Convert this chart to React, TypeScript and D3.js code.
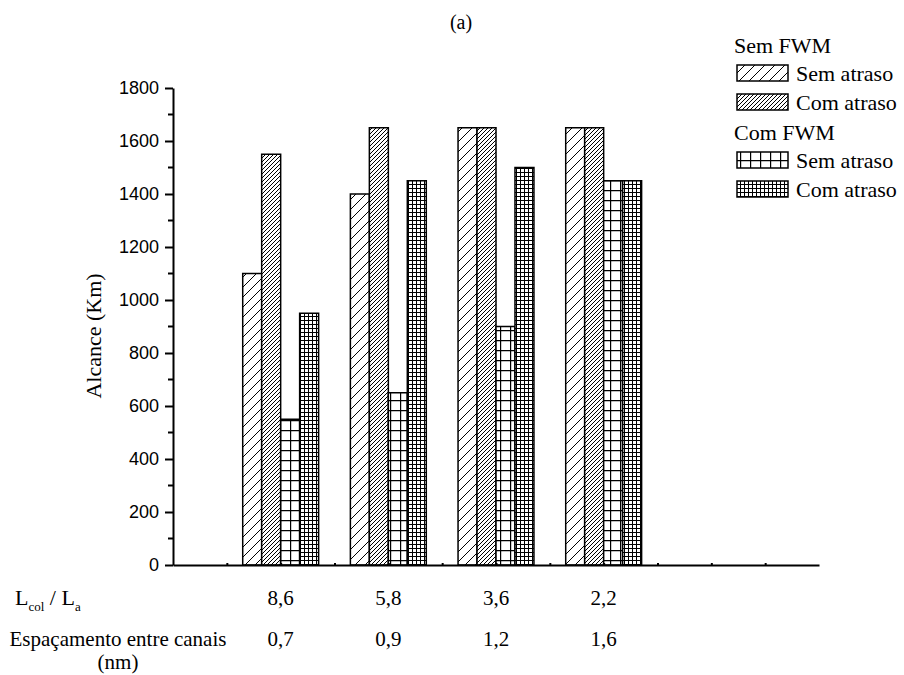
import React, { useEffect, useRef } from 'react';
import * as d3 from 'd3';

// values (Km)
const ratioLabels = ['8,6', '5,8', '3,6', '2,2'];
const spacingLabels = ['0,7', '0,9', '1,2', '1,6'];
const groupPos = [2, 4, 6, 8];
const semFwmSemAtraso = [1100, 1400, 1650, 1650];
const semFwmComAtraso = [1550, 1650, 1650, 1650];
const comFwmSemAtraso = [550, 650, 900, 1450];
const comFwmComAtraso = [950, 1450, 1500, 1450];
const yTicks = [0, 200, 400, 600, 800, 1000, 1200, 1400, 1600, 1800];

const seriesKeys = ['ssa', 'sca', 'csa', 'cca'];
const seriesValues = [semFwmSemAtraso, semFwmComAtraso, comFwmSemAtraso, comFwmComAtraso];

const serif = '"Liberation Serif", "Times New Roman", serif';
const sans = '"Liberation Sans", Arial, sans-serif';

const App = () => {
  const svgRef = useRef<SVGSVGElement>(null);

  useEffect(() => {
    const width = 904;
    const height = 675;
    const svg = d3.select(svgRef.current).attr('width', width).attr('height', height);
    svg.selectAll('*').remove();

    // patterns
    const defs = svg.append('defs');
    const hatch = (id: string, step: number, sw: number) => {
      const p = defs.append('pattern').attr('id', id).attr('patternUnits', 'userSpaceOnUse')
        .attr('width', step).attr('height', step);
      p.append('rect').attr('width', step).attr('height', step).attr('fill', '#fff');
      p.append('path')
        .attr('d', `M0,${step} L${step},0 M${-step / 2},${step / 2} L${step / 2},${-step / 2} M${step / 2},${step * 1.5} L${step * 1.5},${step / 2}`)
        .attr('stroke', '#000').attr('stroke-width', sw);
    };
    const grid = (id: string, step: number, sw: number) => {
      const p = defs.append('pattern').attr('id', id).attr('patternUnits', 'userSpaceOnUse')
        .attr('width', step).attr('height', step);
      p.append('rect').attr('width', step).attr('height', step).attr('fill', '#fff');
      p.append('path').attr('d', `M0,0 L${step},0 M0,0 L0,${step}`)
        .attr('stroke', '#000').attr('stroke-width', sw);
    };
    hatch('ssa', 10, 1);
    hatch('sca', 4, 1);
    grid('csa', 10, 2.4);
    grid('cca', 4, 2);

    const x = d3.scaleLinear().domain([0, 12]).range([173, 819]);
    const y = d3.scaleLinear().domain([0, 1800]).range([565, 88]);
    const halfGroup = 0.705;

    const inner = d3.scaleBand().domain(seriesKeys).range([0, x(2 * halfGroup) - x(0)]);

    // bars
    seriesKeys.forEach((key, si) => {
      svg.append('g').selectAll('rect')
        .data(seriesValues[si])
        .enter().append('rect')
        .attr('x', (d, i) => x(groupPos[i] - halfGroup) + (inner(key) as number))
        .attr('y', d => y(d))
        .attr('width', inner.bandwidth())
        .attr('height', d => y(0) - y(d))
        .attr('fill', `url(#${key})`)
        .attr('stroke', '#000')
        .attr('stroke-width', 1.5);
    });

    // y axis
    const yAxis = svg.append('g').attr('transform', `translate(${x(0)},0)`);
    yAxis.call(d3.axisLeft(y).tickValues(yTicks).tickFormat(d3.format('d')).tickSize(8).tickSizeOuter(0).tickPadding(6))
      .call(g => g.selectAll('text').attr('font-family', sans).attr('font-size', 18).attr('fill', '#000'))
      .call(g => g.selectAll('line, path').attr('stroke', '#000').attr('stroke-width', 2));
    yAxis.append('g').selectAll('line')
      .data(d3.range(100, 1800, 200))
      .enter().append('line')
      .attr('x1', -5).attr('x2', 0)
      .attr('y1', d => y(d)).attr('y2', d => y(d))
      .attr('stroke', '#000').attr('stroke-width', 2);

    // x axis
    const xAxis = svg.append('g').attr('transform', `translate(0,${y(0)})`);
    xAxis.call(d3.axisTop(x).tickValues(d3.range(1, 12)).tickSize(2).tickSizeOuter(0).tickFormat(() => ''))
      .call(g => g.selectAll('line, path').attr('stroke', '#000').attr('stroke-width', 2));

    // y axis title
    svg.append('text')
      .attr('transform', `translate(101,336) rotate(-90)`)
      .attr('text-anchor', 'middle')
      .attr('font-family', serif).attr('font-size', 22)
      .text('Alcance (Km)');

    // title
    svg.append('text').attr('x', 461).attr('y', 29).attr('text-anchor', 'middle')
      .attr('font-family', serif).attr('font-size', 20).text('(a)');

    // category rows
    const lRow = svg.append('text').attr('x', 15).attr('y', 605)
      .attr('font-family', serif).attr('font-size', 22);
    lRow.append('tspan').text('L');
    lRow.append('tspan').attr('font-size', 13).attr('dy', 6).text('col');
    lRow.append('tspan').attr('dy', -6).text(' / L');
    lRow.append('tspan').attr('font-size', 13).attr('dy', 6).text('a');

    svg.append('g').selectAll('text')
      .data(ratioLabels)
      .enter().append('text')
      .attr('x', (d, i) => x(groupPos[i])).attr('y', 605)
      .attr('text-anchor', 'middle')
      .attr('font-family', serif).attr('font-size', 21)
      .text(d => d);

    svg.append('text').attr('x', 118).attr('y', 646).attr('text-anchor', 'middle')
      .attr('font-family', serif).attr('font-size', 21).text('Espaçamento entre canais');
    svg.append('text').attr('x', 118).attr('y', 669).attr('text-anchor', 'middle')
      .attr('font-family', serif).attr('font-size', 21).text('(nm)');

    svg.append('g').selectAll('text')
      .data(spacingLabels)
      .enter().append('text')
      .attr('x', (d, i) => x(groupPos[i])).attr('y', 646)
      .attr('text-anchor', 'middle')
      .attr('font-family', serif).attr('font-size', 21)
      .text(d => d);

    // legend
    const legend = svg.append('g').attr('font-family', serif).attr('font-size', 22);
    const heads = [{ label: 'Sem FWM', y: 53 }, { label: 'Com FWM', y: 140 }];
    legend.selectAll('text.head').data(heads).enter().append('text')
      .attr('class', 'head').attr('x', 734).attr('y', d => d.y).text(d => d.label);
    const items = [
      { key: 'ssa', label: 'Sem atraso', y: 65 },
      { key: 'sca', label: 'Com atraso', y: 94 },
      { key: 'csa', label: 'Sem atraso', y: 152 },
      { key: 'cca', label: 'Com atraso', y: 181 },
    ];
    const item = legend.selectAll('g.item').data(items).enter().append('g').attr('class', 'item');
    item.append('rect')
      .attr('x', 737).attr('y', d => d.y).attr('width', 51).attr('height', 16)
      .attr('fill', d => `url(#${d.key})`).attr('stroke', '#000').attr('stroke-width', 1.5);
    item.append('text').attr('x', 796).attr('y', d => d.y + 16).text(d => d.label);
  }, []);

  return (
    <svg ref={svgRef} style={{ position: 'absolute', left: 0, top: 0, background: '#fff' }}></svg>
  );
};

export default App;
